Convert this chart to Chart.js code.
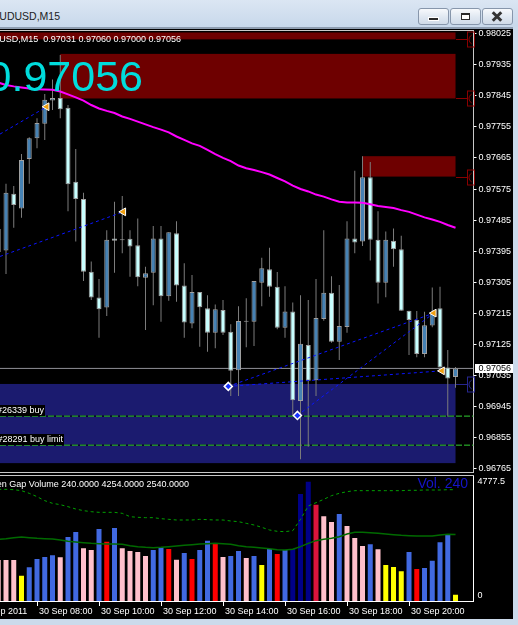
<!DOCTYPE html>
<html>
<head>
<meta charset="utf-8">
<title>AUDUSD,M15</title>
<script src="https://cdn.jsdelivr.net/npm/chart.js@4.4.0/dist/chart.umd.min.js"></script>
<style>
  html, body { margin: 0; padding: 0; }
  body { width: 518px; height: 625px; overflow: hidden; position: relative; background: #cbdaeb;
         font-family: "Liberation Sans", Arial, sans-serif; }
  .abs { position: absolute; white-space: nowrap; }
  #titlebar { left: 0; top: 0; width: 518px; height: 27px; background: linear-gradient(#dbe6f3, #c8d8eb); }
  #titleline { left: 0; top: 27px; width: 513px; height: 2px; background: #8e9db0; }
  #screen { left: 0; top: 29px; width: 513px; height: 590px; background: #000; }
  #price { left: 0; top: 29px; }
  #vol { left: 0; top: 474px; }
  .rule { left: 0; width: 474px; height: 1px; background: #c8c8c8; }
  .btn { top: 8px; width: 29px; height: 15px; border: 1px solid #8796ab; border-radius: 3px;
         background: linear-gradient(#f7f9fc, #dfe7f1 55%, #d0dbe8); }
  .txt { color: #fff; font-size: 9px; line-height: 11px; }
</style>
</head>
<body>
<div id="titlebar" class="abs"></div>
<div class="abs" style="right:458px;top:9px;font-size:10.5px;line-height:14px;color:#1c1c1c">AUDUSD,M15</div>
<div class="abs btn" style="left:418px">
  <div class="abs" style="left:9px;top:8px;width:9px;height:2px;background:#2a2a2a;border:1px solid #fff"></div>
</div>
<div class="abs btn" style="left:450px">
  <div class="abs" style="left:10px;top:4px;width:7px;height:4px;border:1px solid #2a2a2a;border-top-width:2px;background:#fff"></div>
</div>
<div class="abs btn" style="left:482px">
  <div class="abs" style="left:8px;top:6px;width:12px;height:3px;background:#333;transform:rotate(45deg)"></div>
  <div class="abs" style="left:8px;top:6px;width:12px;height:3px;background:#333;transform:rotate(-45deg)"></div>
</div>
<div id="titleline" class="abs"></div>
<div id="screen" class="abs"></div>

<canvas id="price" class="abs" width="513" height="445"></canvas>
<canvas id="vol" class="abs" width="513" height="145"></canvas>

<div class="abs rule" style="top:30px"></div>
<div class="abs rule" style="top:472px"></div>
<div class="abs rule" style="top:475px"></div>

<div class="abs txt" style="right:337px;top:34px">AUDUSD,M15&nbsp;&nbsp;0.97031 0.97060 0.97000 0.97056</div>
<div class="abs" style="right:375px;top:55px;font-size:43px;line-height:43px;color:#00dcdc">0.97056</div>
<div class="abs txt" style="right:473px;top:405px;background:#000;padding-right:1px">#26339 buy</div>
<div class="abs txt" style="right:454px;top:434px;background:#000;padding-right:1px">#28291 buy limit</div>
<div class="abs txt" style="right:329px;top:479px">Open Gap Volume 240.0000 4254.0000 2540.0000</div>
<div class="abs" style="right:50px;top:475px;font-size:14px;line-height:16px;color:#1414c8">Vol. 240</div>

<script>
// AUDUSD M15, 30 Sep 2011, first visible bar is 06:45 (bar index -5, 08:00 = 0)
const firstBar = -5;

const opens = [0.97393, 0.97397, 0.97561, 0.97519, 0.97662,
  0.97722, 0.97764, 0.97831, 0.97838, 0.97810, 0.97596, 0.97546, 0.97336, 0.97261, 0.97232,
  0.97432, 0.97427, 0.97431, 0.97412, 0.97318, 0.97333, 0.97432, 0.97265, 0.97447, 0.97296,
  0.97186, 0.97277, 0.97230, 0.97159, 0.97225, 0.97162, 0.97051, 0.97191, 0.97191, 0.97304,
  0.97343, 0.97292, 0.97174, 0.97221, 0.96962, 0.97124, 0.97022, 0.97199, 0.97275, 0.97133,
  0.97176, 0.97432, 0.97423, 0.97609, 0.97428, 0.97304, 0.97425, 0.97401, 0.97223, 0.97196,
  0.97098, 0.97180, 0.97230, 0.97059, 0.97031];
const highs = [0.97480, 0.97590, 0.97584, 0.97676, 0.97725,
  0.97780, 0.97850, 0.97892, 0.97963, 0.97818, 0.97691, 0.97564, 0.97365, 0.97315, 0.97456,
  0.97538, 0.97555, 0.97456, 0.97490, 0.97350, 0.97468, 0.97468, 0.97450, 0.97482, 0.97360,
  0.97326, 0.97277, 0.97268, 0.97241, 0.97254, 0.97184, 0.97236, 0.97259, 0.97309, 0.97376,
  0.97405, 0.97335, 0.97294, 0.97247, 0.97268, 0.97254, 0.97315, 0.97456, 0.97323, 0.97297,
  0.97482, 0.97628, 0.97670, 0.97653, 0.97511, 0.97452, 0.97461, 0.97440, 0.97223, 0.97222,
  0.97220, 0.97290, 0.97292, 0.97109, 0.97060];
const lows = [0.97375, 0.97329, 0.97463, 0.97492, 0.97590,
  0.97693, 0.97717, 0.97804, 0.97780, 0.97511, 0.97423, 0.97309, 0.97254, 0.97145, 0.97208,
  0.97333, 0.97389, 0.97321, 0.97294, 0.97167, 0.97239, 0.97191, 0.97252, 0.97249, 0.97145,
  0.97172, 0.97119, 0.97104, 0.97114, 0.97153, 0.96976, 0.96976, 0.97117, 0.97121, 0.97236,
  0.97263, 0.97169, 0.97145, 0.96918, 0.96793, 0.96829, 0.96976, 0.97194, 0.97130, 0.97080,
  0.97159, 0.97389, 0.97410, 0.97368, 0.97244, 0.97262, 0.97350, 0.97223, 0.97095, 0.97088,
  0.97088, 0.97175, 0.97059, 0.96916, 0.97000];
const closes = [0.97459, 0.97564, 0.97529, 0.97659, 0.97722,
  0.97766, 0.97833, 0.97838, 0.97806, 0.97589, 0.97546, 0.97336, 0.97261, 0.97227, 0.97428,
  0.97425, 0.97427, 0.97409, 0.97320, 0.97331, 0.97432, 0.97265, 0.97450, 0.97296, 0.97189,
  0.97277, 0.97233, 0.97159, 0.97227, 0.97159, 0.97049, 0.97193, 0.97191, 0.97309, 0.97346,
  0.97292, 0.97174, 0.97221, 0.96964, 0.97127, 0.97020, 0.97202, 0.97275, 0.97133, 0.97179,
  0.97432, 0.97420, 0.97609, 0.97428, 0.97304, 0.97428, 0.97401, 0.97223, 0.97196, 0.97098,
  0.97181, 0.97215, 0.97059, 0.97027, 0.97056];
const maValues = [0.97883, 0.97876, 0.97872, 0.97869, 0.97866,
  0.97864, 0.97863, 0.97862, 0.97857, 0.97849, 0.97840, 0.97831, 0.97818, 0.97808, 0.97801,
  0.97795, 0.97785, 0.97778, 0.97770, 0.97762, 0.97754, 0.97747, 0.97739, 0.97727, 0.97717,
  0.97707, 0.97700, 0.97688, 0.97676, 0.97665, 0.97656, 0.97643, 0.97635, 0.97630, 0.97624,
  0.97617, 0.97607, 0.97597, 0.97585, 0.97575, 0.97568, 0.97559, 0.97553, 0.97545, 0.97538,
  0.97536, 0.97536, 0.97535, 0.97531, 0.97526, 0.97523, 0.97520, 0.97514, 0.97509, 0.97501,
  0.97493, 0.97487, 0.97480, 0.97471, 0.97463];

const volumes = [1567, 1567, 1567, 968, 1287,
  1605, 1682, 1745, 1669, 2446, 2637, 2013, 1949, 2752, 2268,
  2790, 2013, 1911, 1873, 1720, 1949, 2064, 1987, 1580, 1835,
  1605, 1949, 2306, 2204, 1682, 1720, 1911, 1643, 1720, 1376,
  1987, 1796, 1949, 1987, 4090, 4561, 3682, 3236, 3019, 3325,
  2867, 2408, 2102, 2166, 1975, 1376, 1299, 1134, 1873, 1223,
  1261, 1542, 2242, 2535, 240];
const volClass = ['P', 'P', 'P', 'Y', 'B',
  'B', 'B', 'B', 'P', 'B', 'B', 'P', 'P', 'B', 'R',
  'B', 'P', 'P', 'P', 'P', 'B', 'B', 'R', 'P', 'B',
  'R', 'B', 'B', 'R', 'P', 'B', 'B', 'P', 'B', 'Y',
  'B', 'R', 'B', 'N', 'N', 'N', 'C', 'P', 'P', 'B',
  'P', 'P', 'P', 'B', 'P', 'Y', 'Y', 'Y', 'B', 'R',
  'B', 'B', 'B', 'B', 'Y'];
const volUpper = [4268, 4268, 4255, 4217, 4115,
  3988, 3835, 3733, 3682, 3605, 3516, 3453, 3414, 3389, 3389,
  3389, 3351, 3223, 3198, 3185, 3185, 3147, 3121, 3096, 3096,
  3096, 3121, 3109, 3096, 3096, 3058, 3032, 2968, 2905, 2816,
  2714, 2663, 2650, 2688, 3121, 3631, 3758, 3886, 4026, 4115,
  4179, 4217, 4217, 4217, 4217, 4217, 4217, 4217, 4230, 4230,
  4242, 4242, 4242, 4255, 4254];
const volAvg = [2357, 2382, 2421, 2446, 2421,
  2395, 2382, 2370, 2331, 2280, 2255, 2230, 2204, 2192, 2179,
  2179, 2166, 2115, 2077, 2051, 2038, 2051, 2077, 2102, 2128,
  2153, 2179, 2192, 2204, 2192, 2166, 2115, 2077, 2051, 2026,
  2000, 1962, 1949, 1975, 2077, 2204, 2306, 2357, 2395, 2459,
  2561, 2624, 2624, 2612, 2586, 2561, 2535, 2510, 2497, 2484,
  2484, 2484, 2523, 2548, 2540];

const priceTicks = [0.98025, 0.97935, 0.97845, 0.97755, 0.97665, 0.97575, 0.97485, 0.97395,
  0.97305, 0.97215, 0.97125, 0.97035, 0.96945, 0.96855, 0.96765];
const volTicks = [0, 4777.5];
const xTickBars = [-8, 0, 8, 16, 24, 32, 40, 48];
const xTickLabels = ['30 Sep 2011', '30 Sep 08:00', '30 Sep 10:00', '30 Sep 12:00',
  '30 Sep 14:00', '30 Sep 16:00', '30 Sep 18:00', '30 Sep 20:00'];

// supply / demand boxes (bar index from..to, price top..bottom)
const zoneKind = ['sell', 'sell', 'sell', 'buy'];
const zoneFrom = [-12, 3, 42, -12];
const zoneTo = [54, 54, 54, 54];
const zoneTop = [0.98028, 0.97966, 0.97670, 0.97011];
const zoneBottom = [0.98008, 0.97837, 0.97611, 0.96782];

// pending order lines
const orderPrices = [0.96918, 0.96834];

// trade arrows and history lines
const closeArrowX = [1.25, 11.14, 51.2, 52.26];
const closeArrowY = [0.97813, 0.97509, 0.97216, 0.97049];
const entryX = [24.68, 33.6];
const entryY = [0.97004, 0.96920];
const tradeFromX = [-4.77, -4.77, 24.68, 24.68, 33.6];
const tradeFromY = [0.97734, 0.97380, 0.97004, 0.97004, 0.96920];
const tradeToX = [1.25, 11.14, 52.26, 51.2, 51.2];
const tradeToY = [0.97813, 0.97509, 0.97049, 0.97216, 0.97216];

const xMin = -4.774, xMax = 56.32;
const priceMin = 0.967563, priceMax = 0.980351;
const volMax = 4777.5;

const bid = closes[closes.length - 1];
const volColors = { B: '#4169e1', P: '#ffc0cb', R: '#ff0000', Y: '#ffff00', N: '#000088', C: '#dc143c' };

Chart.defaults.font.family = '"Liberation Sans", Arial, sans-serif';
Chart.defaults.font.size = 9;
Chart.defaults.color = '#ffffff';

const bodies = opens.map((o, k) => ({ x: firstBar + k, y: [o, closes[k]] }));
const wicks = lows.map((l, k) => ({ x: firstBar + k, y: [l, highs[k]] }));

const zonesPlugin = {
  id: 'zones',
  beforeDatasetsDraw(chart) {
    const { ctx, chartArea: a, scales: { x, y } } = chart;
    ctx.save();
    ctx.beginPath();
    ctx.rect(a.left, a.top, a.width, a.height);
    ctx.clip();
    zoneTop.forEach((top, k) => {
      const x1 = x.getPixelForValue(zoneFrom[k]);
      const x2 = x.getPixelForValue(zoneTo[k]);
      const y1 = y.getPixelForValue(top);
      const y2 = y.getPixelForValue(zoneBottom[k]);
      ctx.fillStyle = zoneKind[k] === 'sell' ? '#6e0000' : '#1b1b6f';
      ctx.fillRect(x1, y1, x2 - x1, y2 - y1);
    });
    ctx.restore();
  },
  afterDraw(chart) {
    const { ctx, chartArea: a, scales: { x, y } } = chart;
    ctx.save();
    ctx.lineWidth = 1;
    zoneTop.forEach((top, k) => {
      const sell = zoneKind[k] === 'sell';
      const x2 = Math.round(x.getPixelForValue(zoneTo[k]));
      const yy = Math.round(y.getPixelForValue(sell ? zoneBottom[k] : top)) + 0.5;
      ctx.strokeStyle = sell ? '#8a0000' : '#26268f';
      ctx.beginPath();
      ctx.moveTo(x2, yy);
      ctx.lineTo(x2 + 11, yy);
      ctx.stroke();
      ctx.strokeRect(x2 + 11.5, yy - 7.5, 7, 15);
      ctx.beginPath();
      ctx.arc(x2 + 18, yy, 5, Math.PI * 0.65, Math.PI * 1.35);
      ctx.stroke();
    });
    // current price label on the axis
    const yp = Math.round(y.getPixelForValue(bid));
    ctx.fillStyle = '#ffffff';
    ctx.fillRect(a.right + 1.5, yp - 4, chart.width - a.right - 1.5, 9);
    ctx.fillStyle = '#000000';
    ctx.font = '9px "Liberation Sans", Arial';
    ctx.textBaseline = 'middle';
    ctx.fillText(bid.toFixed(5), a.right + 5, yp + 0.5);
    ctx.restore();
  }
};

const flat = p => [{ x: xMin, y: p }, { x: xMax, y: p }];

new Chart(document.getElementById('price'), {
  type: 'bar',
  data: {
    datasets: [
      { type: 'line', data: closeArrowX.map((v, k) => ({ x: v, y: closeArrowY[k] })), showLine: false,
        pointStyle: 'triangle', pointRotation: -90, pointRadius: 4.5,
        pointBackgroundColor: '#f0a010', pointBorderColor: '#ffffff', pointBorderWidth: 1, order: 0 },
      { type: 'line', data: entryX.map((v, k) => ({ x: v, y: entryY[k] })), showLine: false,
        pointStyle: 'rectRot', pointRadius: 4, pointBackgroundColor: '#1530ff',
        pointBorderColor: '#ffffff', pointBorderWidth: 1.5, order: 0 },
      ...tradeFromX.map((fx, k) => ({
        type: 'line', data: [{ x: fx, y: tradeFromY[k] }, { x: tradeToX[k], y: tradeToY[k] }],
        borderColor: '#0a14ff', borderWidth: 1, borderDash: [3, 3], pointRadius: 0, order: 1
      })),
      { type: 'line', data: maValues.map((v, k) => ({ x: firstBar + k, y: v })),
        borderColor: '#ff00ff', borderWidth: 2, pointRadius: 0, order: 2 },
      { data: bodies, barThickness: 5, grouped: false, inflateAmount: 0, minBarLength: 1,
        backgroundColor: c => closes[c.dataIndex] >= opens[c.dataIndex] ? '#4682b4' : '#c8ffff',
        borderColor: '#a0a0a0', borderWidth: 1, borderSkipped: false, order: 3 },
      { data: wicks, barThickness: 1, grouped: false, inflateAmount: 0,
        backgroundColor: '#7c7c7c', borderWidth: 0, order: 4 },
      { type: 'line', data: flat(bid), borderColor: '#8f8f96', borderWidth: 1, pointRadius: 0, order: 5 },
      ...orderPrices.map(p => ({ type: 'line', data: flat(p), borderColor: '#32cd32', borderWidth: 1,
        borderDash: [6, 2], pointRadius: 0, order: 6 })),
      ...orderPrices.map(p => ({ type: 'line', data: flat(p), borderColor: '#000000', borderWidth: 1,
        pointRadius: 0, order: 7 }))
    ]
  },
  options: {
    responsive: false,
    animation: false,
    events: [],
    layout: { autoPadding: false, padding: { top: 1, bottom: 2, left: 0, right: 0 } },
    plugins: { legend: { display: false }, tooltip: { enabled: false } },
    scales: {
      x: { type: 'linear', min: xMin, max: xMax, display: false, offset: false },
      y: {
        position: 'right', min: priceMin, max: priceMax,
        afterBuildTicks: s => { s.ticks = priceTicks.map(v => ({ value: v })); },
        afterFit: s => { s.width = 39.5; s.paddingTop = 0; s.paddingBottom = 0; },
        grid: { drawOnChartArea: false, tickLength: 3, color: '#ffffff' },
        border: { color: '#c8c8c8' },
        ticks: { padding: 2, autoSkip: false, color: '#ffffff', callback: v => Number(v).toFixed(5) }
      }
    }
  },
  plugins: [zonesPlugin]
});

new Chart(document.getElementById('vol'), {
  type: 'bar',
  data: {
    datasets: [
      { type: 'line', data: volUpper.map((v, k) => ({ x: firstBar + k, y: v })),
        borderColor: '#00a000', borderWidth: 1, borderDash: [3, 3], pointRadius: 0, order: 0 },
      { type: 'line', data: volAvg.map((v, k) => ({ x: firstBar + k, y: v })),
        borderColor: '#006a00', borderWidth: 1.5, pointRadius: 0, order: 1 },
      { data: volumes.map((v, k) => ({ x: firstBar + k, y: v })), barThickness: 5, grouped: false,
        inflateAmount: 0, backgroundColor: c => volColors[volClass[c.dataIndex]], order: 2 }
    ]
  },
  options: {
    responsive: false,
    animation: false,
    events: [],
    layout: { autoPadding: false, padding: { top: 2, left: 0, right: 0, bottom: 0 } },
    plugins: { legend: { display: false }, tooltip: { enabled: false } },
    scales: {
      x: {
        type: 'linear', min: xMin, max: xMax, offset: false,
        afterBuildTicks: s => { s.ticks = xTickBars.map(v => ({ value: v })); },
        afterFit: s => { s.height = 18; s.paddingLeft = 0; s.paddingRight = 0; },
        grid: { drawOnChartArea: false, offset: false, color: '#ffffff', tickLength: 5 },
        border: { color: '#ffffff' },
        ticks: {
          autoSkip: false, maxRotation: 0, align: 'start', labelOffset: 2, padding: 0, color: '#ffffff',
          callback: v => { const k = xTickBars.indexOf(v); return k >= 0 ? xTickLabels[k] : ''; }
        }
      },
      y: {
        position: 'right', min: 0, max: volMax,
        afterBuildTicks: s => { s.ticks = volTicks.map(v => ({ value: v })); },
        afterFit: s => { s.width = 39.5; s.paddingTop = 0; s.paddingBottom = 0; },
        grid: { display: false, drawTicks: false },
        border: { color: '#ffffff' },
        ticks: { padding: 4, color: '#ffffff', callback: v => (v === 0 ? ['0', ''] : ['', String(v)]) }
      }
    }
  }
});
</script>
</body>
</html>
